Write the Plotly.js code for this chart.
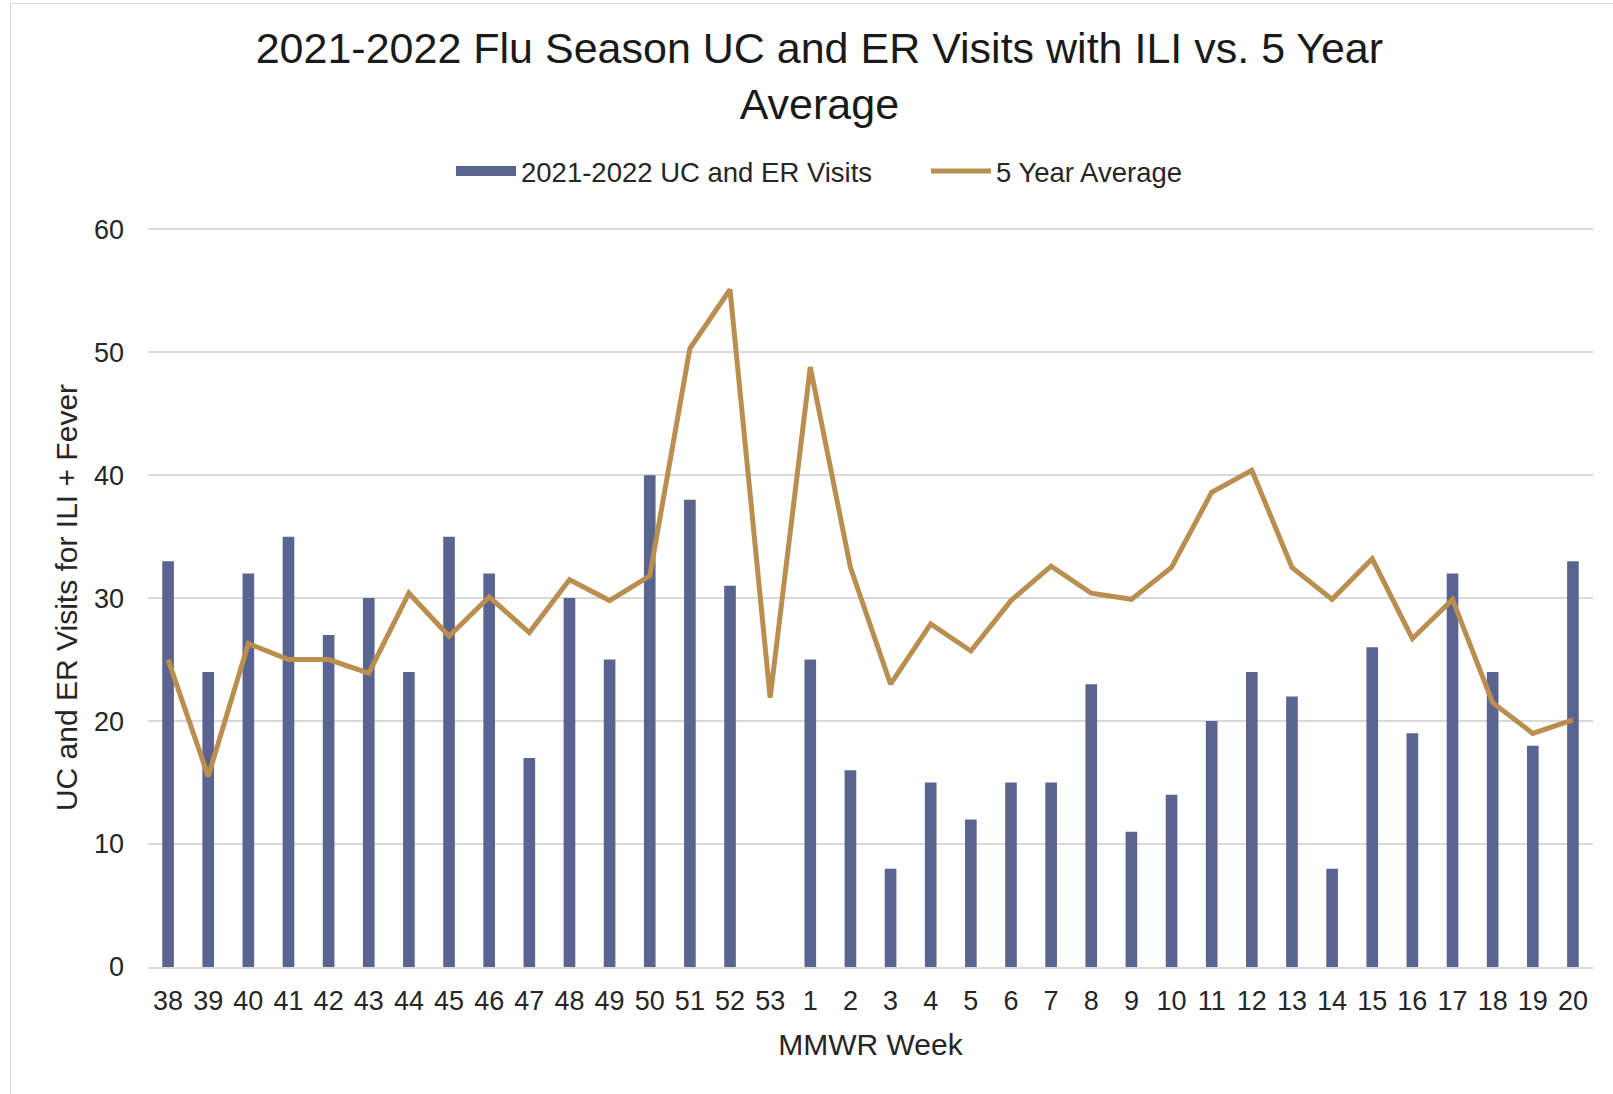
<!DOCTYPE html>
<html>
<head>
<meta charset="utf-8">
<script src="https://cdn.plot.ly/plotly-3.0.1.min.js"></script>
<style>
html, body { margin: 0; padding: 0; background: #ffffff; }
#frame { position: absolute; left: 10px; top: 3px; width: 1620px; height: 1110px; border: 1px solid #d9d9d9; pointer-events: none; }
#chart { width: 1613px; height: 1094px; }
</style>
</head>
<body>
<div id="chart"></div>
<div id="frame"></div>
<script>
const weeks = ["38","39","40","41","42","43","44","45","46","47","48","49","50","51","52","53",
               "1","2","3","4","5","6","7","8","9","10","11","12","13","14","15","16","17","18","19","20"];
const visits2122 = [33,24,32,35,27,30,24,35,32,17,30,25,40,38,31,null,
                    25,16,8,15,12,15,15,23,11,14,20,24,22,8,26,19,32,24,18,33];
const fiveYearAvg = [25,15.5,26.3,25,25,23.9,30.4,26.9,30.1,27.2,31.5,29.8,31.8,50.3,55.1,21.9,
                     48.8,32.5,23,27.9,25.7,29.8,32.6,30.4,29.9,32.5,38.6,40.4,32.5,29.9,33.2,26.7,29.9,21.5,19,20.1];

const barColor = "#5A6490";
const lineColor = "#BA8E4E";
const font = "Liberation Sans, Arial, sans-serif";

const traces = [
  {
    type: "bar",
    name: "2021-2022 UC and ER Visits",
    x: weeks,
    y: visits2122,
    marker: { color: barColor },
    showlegend: false,
    legendgroup: "bars",
    hoverinfo: "x+y"
  },
  {
    // legend key only (wide rectangle swatch like the reference)
    type: "scatter",
    mode: "lines",
    name: "2021-2022 UC and ER Visits",
    x: [null],
    y: [null],
    line: { color: barColor, width: 11 },
    legendgroup: "bars",
    hoverinfo: "skip"
  },
  {
    type: "scatter",
    mode: "lines",
    name: "5 Year Average",
    x: weeks,
    y: fiveYearAvg,
    line: { color: lineColor, width: 5 },
    hoverinfo: "x+y"
  }
];

const layout = {
  width: 1613,
  height: 1094,
  paper_bgcolor: "#ffffff",
  plot_bgcolor: "#ffffff",
  font: { family: font, color: "#262626", size: 27 },
  margin: { l: 148, r: 20, t: 228, b: 127 },
  bargap: 0.71,
  title: {
    text: "2021-2022 Flu Season UC and ER Visits with ILI vs. 5 Year<br>Average",
    font: { family: font, size: 43, color: "#1a1a1a" },
    x: 0.508,
    xanchor: "center",
    xref: "container",
    yref: "container",
    y: 0.942,
    yanchor: "top"
  },
  legend: {
    orientation: "h",
    x: 451 / 1613,
    xanchor: "left",
    xref: "container",
    yref: "container",
    y: 1 - 171 / 1094,
    yanchor: "middle",
    font: { family: font, size: 27.5, color: "#262626" },
    itemwidth: 60,
    entrywidth: 400,
    entrywidthmode: "pixels",
    traceorder: "normal",
    tracegroupgap: 0
  },
  xaxis: {
    type: "category",
    categoryorder: "array",
    categoryarray: weeks,
    showgrid: false,
    showline: true,
    linecolor: "#d9d9d9",
    linewidth: 2,
    ticks: "",
    tickfont: { family: font, size: 27, color: "#262626" },
    ticklabelstandoff: 9,
    tickangle: 0,
    title: { text: "MMWR Week", font: { family: font, size: 30, color: "#262626" }, standoff: 19 },
    fixedrange: true
  },
  yaxis: {
    range: [0, 60.1],
    dtick: 10,
    tick0: 0,
    showgrid: true,
    gridcolor: "#d9d9d9",
    gridwidth: 1.5,
    zeroline: false,
    showline: false,
    ticks: "",
    tickfont: { family: font, size: 27, color: "#262626" },
    ticklabelstandoff: 23,
    title: { text: "UC and ER Visits for ILI + Fever", font: { family: font, size: 30, color: "#262626" }, standoff: 7 },
    fixedrange: true
  },
  showlegend: true
};

Plotly.newPlot("chart", traces, layout, { displayModeBar: false, staticPlot: true });
</script>
</body>
</html>
